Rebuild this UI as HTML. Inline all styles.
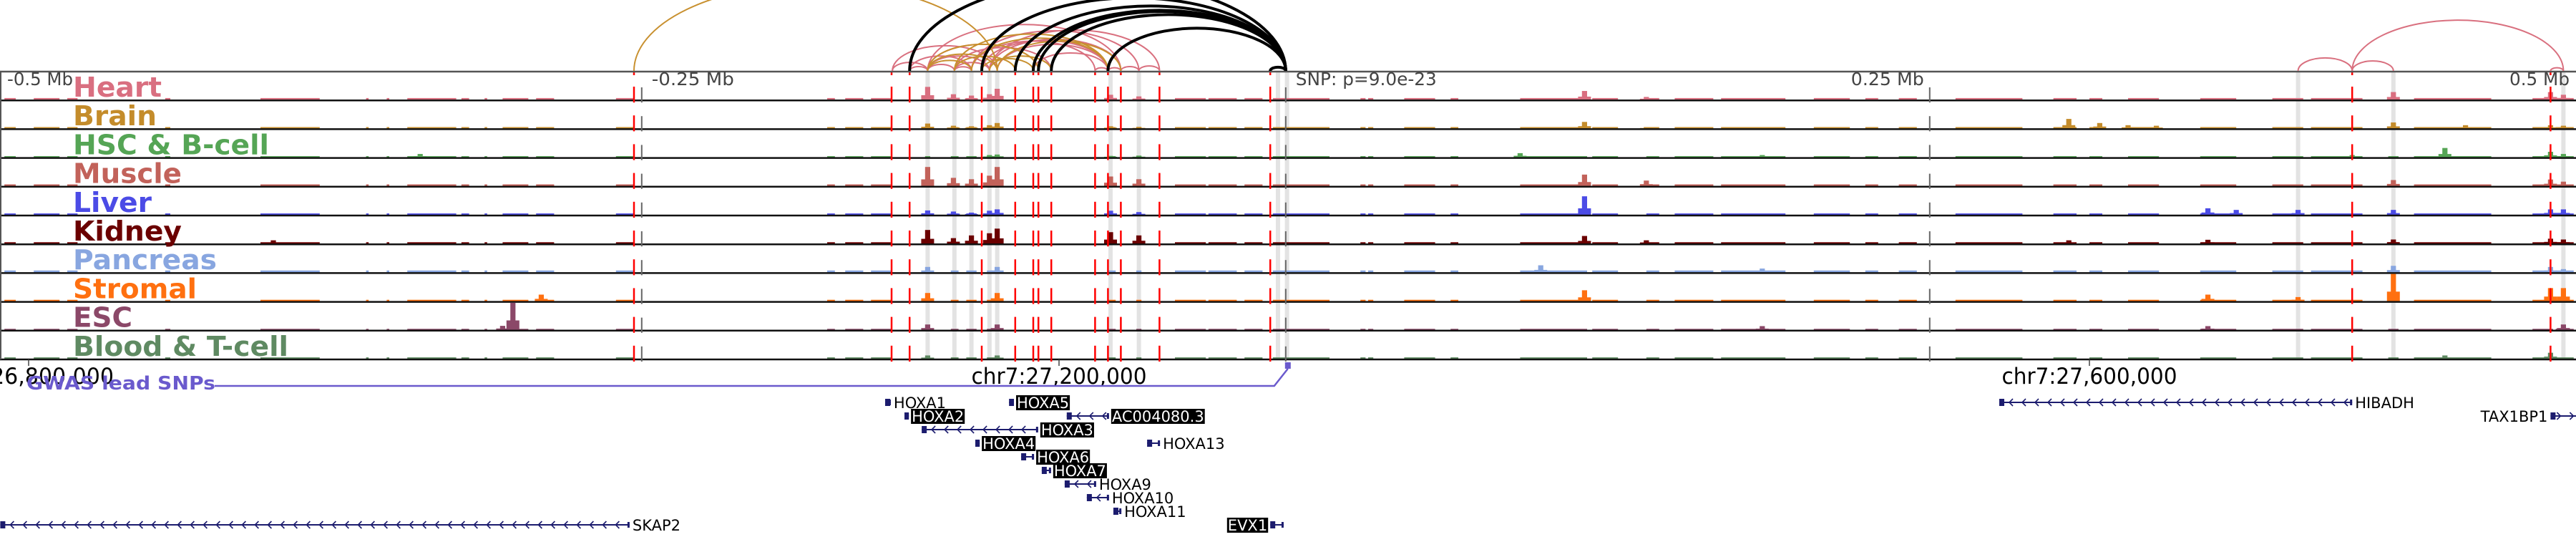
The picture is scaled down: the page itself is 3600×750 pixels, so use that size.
<!DOCTYPE html>
<html><head><meta charset="utf-8"><style>
html,body{margin:0;padding:0;background:#fff;}
svg{display:block;}
</style></head><body>
<svg id="chart" xmlns="http://www.w3.org/2000/svg" width="3600" height="750" viewBox="0 0 3600 750"></svg>
<script>
// ---- data (genomic positions in kb on chr7) ----
const tissueNames = ["Heart","Brain","HSC & B-cell","Muscle","Liver","Kidney","Pancreas","Stromal","ESC","Blood & T-cell"];
const tissueColors = ["#d96f80","#c48c2b","#55a555","#c2625a","#4b4be6","#6b0000","#88a6e0","#ff7010","#8b4868","#5f8a62"];
const labelWidths = [124,117,274,152,110,152,201,173,83,301];
const baseLevels = [0.06,0.05,0.04,0.06,0.05,0.05,0.07,0.05,0.04,0.05];
const openRegions = [[26790.6,26795],[26802,26812],[26815,26819],[26853,26855],[26890,26913],[26931,26932],[26939,26940],[26947,26966],[26968,26971],[26977,26978],[26984,26994],[26997,27004],[27028,27035],[27110,27113],[27117,27124],[27127,27135],[27148,27150],[27158,27161],[27164,27168],[27172,27177],[27219,27222],[27230,27232],[27245,27257],[27258,27269],[27272,27279],[27283,27305],[27317,27319],[27320,27322],[27334,27346],[27352,27355],[27379,27405],[27407,27417],[27428,27433],[27439,27454],[27457,27482],[27493,27507],[27513,27518],[27526,27533],[27548,27574],[27586,27595],[27600,27605],[27615,27627],[27643,27657],[27671,27683],[27686,27706],[27716,27720],[27726,27756],[27772,27780],[27781,27788]];
const heartPeaks = [[27149,0.47],[27159,0.2],[27166,0.15],[27173,0.2],[27176,0.4],[27220,0.18],[27231,0.12],[27404,0.32],[27428,0.1],[27718,0.28],[27779,0.28],[27784,0.18]];
const brainPeaks = [[27149,0.18],[27159,0.1],[27166,0.08],[27173,0.12],[27176,0.2],[27220,0.08],[27231,0.06],[27404,0.24],[27428,0.05],[27592,0.35],[27604,0.2],[27615,0.12],[27626,0.1],[27718,0.22],[27746,0.12],[27779,0.12],[27784,0.1]];
const hscPeaks = [[26952,0.12],[27173,0.08],[27176,0.1],[27220,0.05],[27231,0.06],[27379,0.15],[27473,0.08],[27702,0.08],[27738,0.34],[27779,0.2],[27784,0.12]];
const musclePeaks = [[27149,0.7],[27159,0.3],[27166,0.25],[27173,0.38],[27176,0.7],[27220,0.35],[27231,0.25],[27404,0.42],[27428,0.2],[27718,0.22],[27779,0.24],[27784,0.16]];
const liverPeaks = [[27149,0.16],[27159,0.12],[27166,0.08],[27173,0.15],[27176,0.2],[27220,0.15],[27231,0.1],[27404,0.68],[27646,0.24],[27657,0.18],[27681,0.18],[27718,0.18],[27779,0.2],[27784,0.2]];
const kidneyPeaks = [[26895,0.12],[27149,0.5],[27159,0.2],[27166,0.3],[27173,0.38],[27176,0.55],[27220,0.42],[27231,0.3],[27404,0.28],[27428,0.12],[27592,0.12],[27646,0.14],[27718,0.15],[27779,0.18],[27784,0.15]];
const pancreasPeaks = [[27149,0.2],[27176,0.2],[27387,0.26],[27473,0.14],[27718,0.24],[27779,0.2],[27784,0.12]];
const stromalPeaks = [[26999,0.24],[27149,0.3],[27176,0.3],[27404,0.4],[27646,0.24],[27681,0.15],[27718,1.0],[27779,0.48],[27784,0.48]];
const escPeaks = [[26984,0.15],[26988,1.0],[27149,0.2],[27176,0.2],[27473,0.14],[27646,0.14],[27784,0.2]];
const bloodPeaks = [[27149,0.12],[27176,0.12],[27738,0.12],[27779,0.22]];
const allPeaks = [heartPeaks,brainPeaks,hscPeaks,musclePeaks,liverPeaks,kidneyPeaks,pancreasPeaks,stromalPeaks,escPeaks,bloodPeaks];
const redMarks = [27035,27135,27142,27170,27183,27190,27192,27197,27214,27219,27224,27239,27282,27702,27779];
const greyBands = [27149,27159.4,27166,27173,27176,27220,27231,27285,27288.5,27681,27718,27784];
const snpKb = 27288;
const mbTicks = [-0.25,0,0.25];
const chrTicks = [26800,27200,27600];
const chrTickLabels = ["26,800,000","chr7:27,200,000","chr7:27,600,000"];
const blackArcs = [[27142,27288],[27170,27288],[27183,27288],[27190,27288],[27192,27288],[27197,27288],[27219,27288],[27282,27288]];
const pinkArcs = [[27135.3,27149],[27135.3,27176],[27142,27166],[27149,27159.4],[27149,27173],[27159.4,27166],[27149,27192],[27159.4,27197],[27166,27214],[27170,27219],[27173,27224],[27176,27219],[27166,27231],[27173,27239],[27190,27219],[27149,27224],[27219,27224],[27224,27231],[27231,27239],[27214,27219],[27159.4,27173],[27142,27149],[27681,27702],[27702,27718],[27702,27784],[27779,27784]];
const goldArcs = [[27035,27176],[27149,27176],[27149,27192],[27159.4,27219],[27166,27219],[27173,27197],[27176,27224],[27159.4,27183],[27170,27190],[27149,27166]];
const genes = [
 ["HOXA1",27132.5,27134.7,-1,0,false],["HOXA5",27180.6,27182.5,-1,0,true],
 ["HOXA2",27140,27141.7,-1,1,true],["AC004080.3",27203,27219.4,-1,1,true],
 ["HOXA3",27146.7,27191.9,-1,2,true],["HOXA4",27167.5,27169.2,-1,3,true],
 ["HOXA13",27234.2,27239.2,-1,3,false],["HOXA6",27185.3,27190.3,-1,4,true],
 ["HOXA7",27193.3,27196.9,-1,5,true],["HOXA9",27202.2,27214.4,-1,6,false],
 ["HOXA10",27210.8,27219.4,-1,7,false],["HOXA11",27221.1,27224.2,-1,8,false],
 ["EVX1",27282,27287.2,1,9,true],["SKAP2",26789,27033.3,-1,9,false],
 ["HIBADH",27565,27702,-1,0,false],["TAX1BP1",27779,27790,1,1,false]];

// ---- scales ----
const X = kb => 40 + (kb - 26800) * 3.6;
const XMb = mb => X(snpKb + mb * 1000);
const TOP = 100, TH = 40.2;
const trackTop = i => TOP + i * TH;
const svg = document.getElementById('chart');
const NS = 'http://www.w3.org/2000/svg';
function mk(tag, attrs, parent) {
  const e = document.createElementNS(NS, tag);
  for (const k in attrs) e.setAttribute(k, attrs[k]);
  (parent || svg).appendChild(e);
  return e;
}

// grey highlight bands
const gb = mk('g', {});


greyBands.forEach(kb => {
  const r = mk('rect', {x: X(kb) - 3, y: TOP, width: 6, height: 10 * TH, fill: '#e3e3e3'}, gb);
  
  
});

// tracks
tissueNames.forEach((name, i) => {
  const g = mk('g', {});
  
  
  const bot = trackTop(i) + TH - 1;
  const col = tissueColors[i];
  const maxH = 38;
  openRegions.forEach(([s, e]) => {
    const h = baseLevels[i] * maxH;
    const r = mk('rect', {x: X(s), y: bot - h, width: Math.max(1.5, X(e) - X(s)), height: h, fill: col}, g);
    
    
  });
  allPeaks[i].forEach(([kb, v]) => {
    const h = v * maxH;
    const sh = mk('rect', {x: X(kb - 2.5), y: bot - h * 0.35, width: X(kb + 2.5) - X(kb - 2.5), height: h * 0.35, fill: col}, g);
    
    
    const r = mk('rect', {x: X(kb - 1), y: bot - h, width: X(kb + 1) - X(kb - 1), height: h, fill: col}, g);
    
    
  });
  const sep = mk('line', {x1: 0, x2: 3600, y1: trackTop(i) + TH, y2: trackTop(i) + TH, stroke: '#111', 'stroke-width': 2.5}, g);
  
  
  // axis grey marks
  mbTicks.forEach(mb => {
    const l = mk('line', {x1: XMb(mb), x2: XMb(mb), y1: trackTop(i) + 22, y2: trackTop(i) + TH + 3, stroke: '#666', 'stroke-width': 2}, g);
    
    
  });
  redMarks.forEach(kb => {
    const l = mk('line', {x1: X(kb), x2: X(kb), y1: trackTop(i) + 21, y2: trackTop(i) + TH + 3, stroke: '#ff0000', 'stroke-width': 2.5}, g);
    
    
  });
  const t = mk('text', {x: 102, y: trackTop(i) + 35, fill: col, 'font-family': '"DejaVu Sans", sans-serif', 'font-weight': 'bold', 'font-size': 38, textLength: labelWidths[i], lengthAdjust: 'spacingAndGlyphs'}, g);
  t.textContent = name;
  
  
});
// red marks top stubs
redMarks.forEach(kb => {
  const l = mk('line', {x1: X(kb), x2: X(kb), y1: TOP, y2: TOP + 5, stroke: '#ff0000', 'stroke-width': 2.5});
  
  
});
// borders
const tb = mk('line', {x1: 0, x2: 3600, y1: TOP, y2: TOP, stroke: '#555', 'stroke-width': 2.5});


const lb = mk('line', {x1: 1, x2: 1, y1: TOP, y2: TOP + 10 * TH, stroke: '#555', 'stroke-width': 2});



// Mb labels
const mbLabels = [["-0.5 Mb", 10, 92, 'start'], ["-0.25 Mb", XMb(-0.25) + 14, 115, 'start'], ["SNP: p=9.0e-23", XMb(0) + 14, 197, 'start'], ["0.25 Mb", XMb(0.25) - 8, 102, 'end'], ["0.5 Mb", 3591, 84, 'end']];
mbLabels.forEach(([txt, x, w, a]) => {
  const t = mk('text', {x: x, y: 119, fill: '#444', 'font-family': '"DejaVu Sans", sans-serif', 'font-size': 25, 'text-anchor': a, textLength: w, lengthAdjust: 'spacingAndGlyphs'});
  t.textContent = txt;
  
  
});

// chr axis
chrTicks.forEach((kb, i) => {
  const l = mk('line', {x1: X(kb), x2: X(kb), y1: TOP + 10 * TH, y2: TOP + 10 * TH + 9, stroke: '#444', 'stroke-width': 1.5});
  
  
  const first = i === 0;
  const t = mk('text', {x: first ? X(kb) + 119 : X(kb), y: 536, fill: '#000', 'font-family': '"DejaVu Sans", sans-serif', 'font-size': 31, 'text-anchor': first ? 'end' : 'middle', textLength: first ? 172 : 245, lengthAdjust: 'spacingAndGlyphs'});
  t.textContent = chrTickLabels[i];
  
  
});

// GWAS track
const gw = mk('text', {x: 37, y: 544, fill: '#6a5acd', 'font-family': '"DejaVu Sans", sans-serif', 'font-weight': 'bold', 'font-size': 26, textLength: 264, lengthAdjust: 'spacingAndGlyphs'});
gw.textContent = 'GWAS lead SNPs';


const gp = mk('path', {d: `M300 539 L${X(snpKb) - 16} 539 L${X(snpKb) + 3} 515`, fill: 'none', stroke: '#6a5acd', 'stroke-width': 2.5});


const gr = mk('rect', {x: X(snpKb) - 1, y: 506, width: 8, height: 9, fill: '#6a5acd'});



// arcs
function arc(a, b, color, w, name) {
  const x1 = X(a), x2 = X(b), span = x2 - x1;
  const p = mk('path', {d: `M${x1} 99 A${span / 2} ${span * 0.24} 0 0 1 ${x2} 99`, fill: 'none', stroke: color, 'stroke-width': w});
  
  
}
pinkArcs.forEach(([a, b]) => arc(a, b, '#d9707f', 2, 'heart-loop-arc'));
goldArcs.forEach(([a, b]) => arc(a, b, '#c8902f', 2, 'brain-loop-arc'));
blackArcs.forEach(([a, b]) => arc(a, b, '#000', 4, 'snp-loop-arc'));

// genes
const GC = '#1c1c6e';
genes.forEach(([name, s, e, strand, row, hl]) => {
  const g = mk('g', {});
  
  
  const y = 562 + row * 19;
  const x1 = X(s), x2 = X(e);
  mk('line', {x1: x1, x2: x2, y1: y, y2: y, stroke: GC, 'stroke-width': 2}, g);
  for (let cx = x1 + 14; cx < x2 - 6; cx += 18) {
    const d = strand < 0 ? `M${cx + 5} ${y - 5} L${cx} ${y} L${cx + 5} ${y + 5}` : `M${cx - 5} ${y - 5} L${cx} ${y} L${cx - 5} ${y + 5}`;
    mk('path', {d: d, fill: 'none', stroke: GC, 'stroke-width': 1.6}, g);
  }
  mk('rect', {x: x1, y: y - 5, width: Math.min(7, x2 - x1), height: 10, fill: GC}, g);
  mk('rect', {x: Math.max(x1, x2 - 3), y: y - 4, width: 3, height: 8, fill: GC}, g);
  const leftLabel = (name === 'EVX1' || name === 'TAX1BP1');
  const tx = leftLabel ? x1 - 4 : x2 + 4;
  const t = mk('text', {x: tx, y: y + 8, 'font-family': '"DejaVu Sans", sans-serif', 'font-size': 21, 'text-anchor': leftLabel ? 'end' : 'start', fill: hl ? '#fff' : '#000'}, g);
  t.textContent = name;
  
  
  if (hl) {
    const bb = t.getBBox();
    const r = document.createElementNS(NS, 'rect');
    r.setAttribute('x', bb.x - 1); r.setAttribute('y', y - 10);
    r.setAttribute('width', bb.width + 2); r.setAttribute('height', 21);
    r.setAttribute('fill', '#000');
    
    
    g.insertBefore(r, t);
  }
});
</script>
</body></html>
